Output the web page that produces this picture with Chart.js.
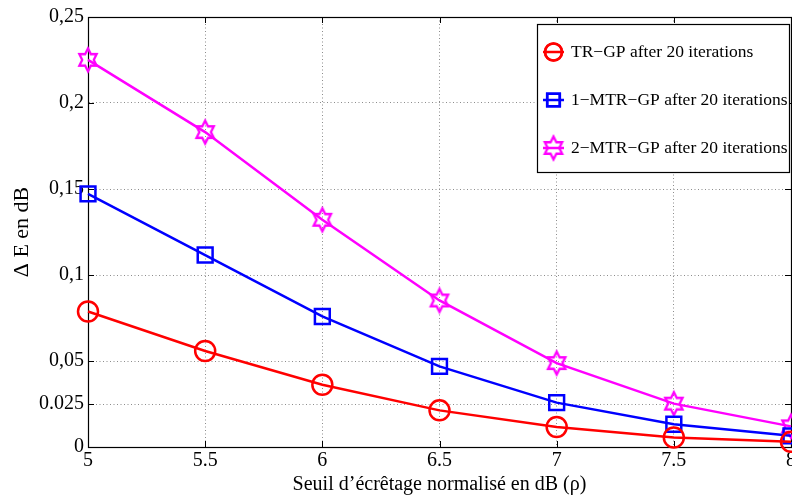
<!DOCTYPE html>
<html><head><meta charset="utf-8">
<script src="https://cdn.jsdelivr.net/npm/chart.js@4/dist/chart.umd.min.js"></script>
<style>html,body{margin:0;padding:0;background:#fff;overflow:hidden}#wrap{width:792px;height:497px;position:relative}</style>
</head><body><div id="wrap"><canvas id="c" width="792" height="497"></canvas></div>
<script>
// ---- data ----
const xValues = [5, 5.5, 6, 6.5, 7, 7.5, 8];
const trGP = [0.0788, 0.0558, 0.0362, 0.0213, 0.0116, 0.0055, 0.003];
const mtr1GP = [0.1472, 0.1116, 0.0759, 0.0469, 0.0258, 0.0132, 0.0065];
const mtr2GP = [0.2251, 0.1831, 0.1321, 0.0852, 0.0488, 0.0252, 0.012];
const seriesNames = ['TR\u2212GP after 20 iterations', '1\u2212MTR\u2212GP after 20 iterations', '2\u2212MTR\u2212GP after 20 iterations'];
const xTickValues = [5, 5.5, 6, 6.5, 7, 7.5, 8];
const xTickLabels = ['5', '5.5', '6', '6.5', '7', '7.5', '8'];
const yTickValues = [0, 0.025, 0.05, 0.1, 0.15, 0.2, 0.25];
const yTickLabels = ['0', '0.025', '0,05', '0,1', '0,15', '0,2', '0,25'];
const xTitle = 'Seuil d\u2019\u00e9cr\u00eatage normalis\u00e9 en dB (\u03c1)';
const yTitle = '\u0394 E en dB';

const SERIF = '"Liberation Serif", "Times New Roman", serif';
Chart.defaults.font.family = SERIF;
Chart.defaults.color = '#000';

function hexagram(color) {
  const c = document.createElement('canvas');
  c.width = 28; c.height = 30;
  const g = c.getContext('2d');
  const cx = 14, cy = 15, rx = 10, ry = 11.5;
  g.beginPath();
  for (let i = 0; i < 12; i++) {
    const a = -Math.PI / 2 + i * Math.PI / 6;
    const f = (i % 2 === 0) ? 1 : 1 / Math.sqrt(3);
    const px = cx + rx * f * Math.cos(a), py = cy + ry * f * Math.sin(a);
    if (i === 0) g.moveTo(px, py); else g.lineTo(px, py);
  }
  g.closePath();
  g.lineWidth = 2.3; g.strokeStyle = color; g.lineJoin = 'miter';
  g.stroke();
  return c;
}
const starImg = hexagram('#ff00ff');

const toPts = arr => arr.map((v, i) => ({x: xValues[i], y: v}));

const series = [
  {data: trGP, color: '#ff0000', style: 'circle', radius: 10},
  {data: mtr1GP, color: '#0000ff', style: 'rect', radius: 10.5},
  {data: mtr2GP, color: '#ff00ff', style: starImg, radius: 10},
];

const boxPlugin = {
  id: 'boxPlugin',
  beforeDatasetsDraw(chart) {
    const {ctx, chartArea: a, scales: {x, y}} = chart;
    ctx.save();
    ctx.strokeStyle = '#000'; ctx.lineWidth = 1;
    ctx.beginPath();
    const tl = 6;
    x.ticks.forEach(t => {
      const px = Math.round(x.getPixelForValue(t.value)) + 0.5;
      ctx.moveTo(px, a.bottom); ctx.lineTo(px, a.bottom - tl);
      ctx.moveTo(px, a.top); ctx.lineTo(px, a.top + tl);
    });
    y.ticks.forEach(t => {
      const py = Math.round(y.getPixelForValue(t.value)) + 0.5;
      ctx.moveTo(a.left, py); ctx.lineTo(a.left + tl, py);
      ctx.moveTo(a.right, py); ctx.lineTo(a.right - tl, py);
    });
    ctx.stroke();
    ctx.lineWidth = 1.2;
    ctx.strokeRect(Math.round(a.left) + 0.5, Math.round(a.top) + 0.5, Math.round(a.right - a.left), Math.round(a.bottom - a.top));
    ctx.restore();
  },
  afterDraw(chart) {
    const {ctx} = chart;
    const L = 537, T = 24, R = 789, B = 172;
    ctx.save();
    ctx.fillStyle = '#fff';
    ctx.fillRect(L, T, R - L, B - T);
    ctx.strokeStyle = '#000'; ctx.lineWidth = 1.2;
    ctx.strokeRect(L + 0.5, T + 0.5, R - L, B - T);
    const rows = [52, 100, 148];
    series.forEach((s, i) => {
      const yy = rows[i];
      ctx.strokeStyle = s.color; ctx.lineWidth = 2.5;
      ctx.beginPath(); ctx.moveTo(543, yy); ctx.lineTo(564, yy); ctx.stroke();
      if (typeof s.style === 'string') {
        ctx.fillStyle = 'rgba(0,0,0,0)';
        Chart.helpers.drawPoint(ctx, {pointStyle: s.style, radius: s.radius * 0.85, borderWidth: 2.5, rotation: 0}, 553.5, yy);
        ctx.stroke();
      } else {
        ctx.drawImage(s.style, 553.5 - s.style.width / 2, yy - s.style.height / 2);
      }
      ctx.fillStyle = '#000';
      ctx.font = '17.5px ' + SERIF;
      ctx.textAlign = 'left'; ctx.textBaseline = 'middle';
      ctx.fillText(seriesNames[i], 571, yy);
    });
    ctx.restore();
  }
};

new Chart(document.getElementById('c'), {
  type: 'line',
  data: {
    datasets: series.map((s, i) => ({
      label: seriesNames[i],
      data: toPts(s.data),
      borderColor: s.color,
      backgroundColor: 'rgba(0,0,0,0)',
      borderWidth: 2.5,
      pointStyle: s.style,
      pointRadius: s.radius,
      pointBorderWidth: 2.5,
      pointBorderColor: s.color,
      pointBackgroundColor: 'rgba(0,0,0,0)',
      tension: 0,
      clip: false,
    }))
  },
  options: {
    responsive: false,
    animation: false,
    devicePixelRatio: 1,
    layout: {autoPadding: false, padding: {top: 17, right: 1, left: 0, bottom: 0}},
    plugins: {legend: {display: false}, tooltip: {enabled: false}},
    scales: {
      x: {
        type: 'linear', min: 5, max: 8,
        afterBuildTicks: s => { s.ticks = xTickValues.map(v => ({value: v})); },
        afterFit: s => { s.height = 50; s.paddingLeft = 0; s.paddingRight = 0; },
        ticks: {
          autoSkip: false, maxRotation: 0, padding: 2,
          font: {size: 20, family: SERIF}, color: '#000',
          callback: (v) => { const k = xTickValues.indexOf(v); return k >= 0 ? xTickLabels[k] : ''; }
        },
        grid: {color: '#8c8c8c', lineWidth: 1, drawTicks: false},
        border: {display: true, color: '#000', dash: [1, 2.5]},
        title: {display: true, text: xTitle, font: {size: 20, family: SERIF}, color: '#000', padding: {top: 0, bottom: 0}}
      },
      y: {
        type: 'linear', min: 0, max: 0.25,
        afterBuildTicks: s => { s.ticks = yTickValues.map(v => ({value: v})); },
        afterFit: s => { s.width = 88; s.paddingTop = 0; s.paddingBottom = 0; },
        ticks: {
          autoSkip: false, padding: 4,
          font: {size: 20, family: SERIF}, color: '#000',
          callback: (v) => { const k = yTickValues.indexOf(v); return k >= 0 ? yTickLabels[k] : ''; }
        },
        grid: {color: '#8c8c8c', lineWidth: 1, drawTicks: false},
        border: {display: true, color: '#000', dash: [1, 2.5]},
        title: {display: true, text: yTitle, font: {size: 22, family: SERIF}, color: '#000', padding: {top: 9, bottom: 0}}
      }
    }
  },
  plugins: [boxPlugin]
});
</script>
</body></html>
